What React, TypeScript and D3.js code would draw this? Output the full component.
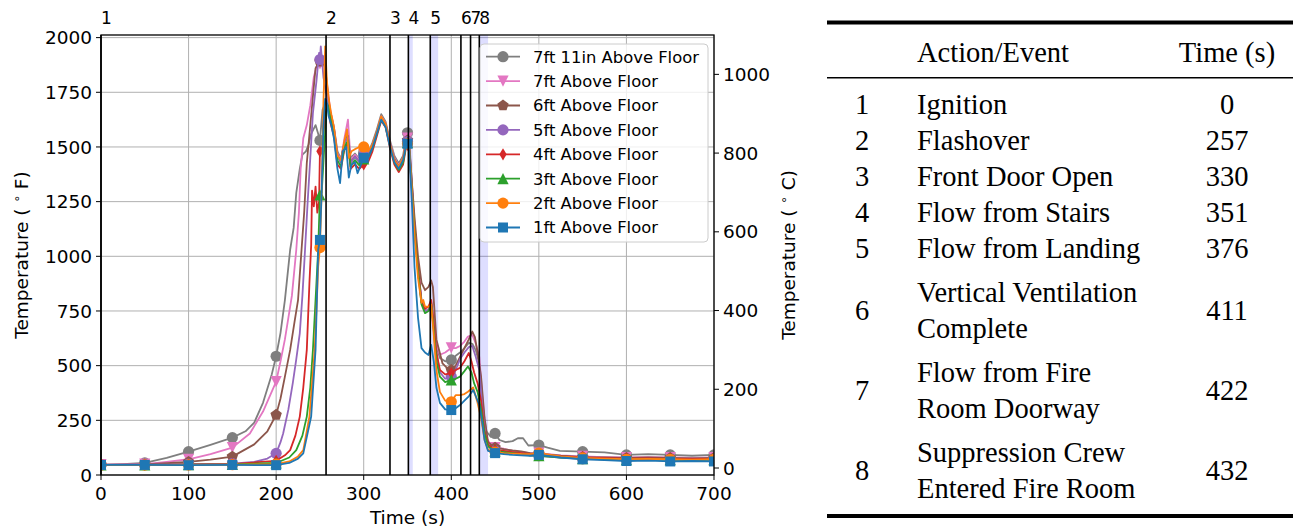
import React from "react";
import * as d3 from "d3";

type Pt = [number, number];

const seriesNames = [
  "7ft 11in Above Floor",
  "7ft Above Floor",
  "6ft Above Floor",
  "5ft Above Floor",
  "4ft Above Floor",
  "3ft Above Floor",
  "2ft Above Floor",
  "1ft Above Floor",
];
const seriesColors = ["#7f7f7f", "#e377c2", "#8c564b", "#9467bd", "#d62728", "#2ca02c", "#ff7f0e", "#1f77b4"];
const seriesMarkers = ["circle", "tridown", "pentagon", "circle", "thindiamond", "triup", "circle", "square"];

const tc7ft11in: Pt[] = [[0,47],[25,50],[50,55],[75,78],[100,107],[125,138],[150,171],[165,200],[175,240],[185,330],[195,460],[200,543],[205,650],[210,800],[216,1030],[220,1130],[223,1290],[227,1400],[230,1465],[234,1480],[237,1510],[240,1560],[245,1600],[248,1560],[250,1530],[253,1670],[256,1700],[259,1720],[262,1660],[266,1590],[270,1480],[274,1445],[278,1520],[282,1560],[285,1450],[290,1470],[295,1445],[300,1475],[305,1470],[310,1520],[315,1580],[320,1650],[325,1615],[330,1530],[335,1460],[340,1425],[345,1460],[348,1540],[350,1565],[352,1530],[355,1330],[358,1140],[362,950],[366,800],[370,750],[374,755],[377,790],[380,700],[383,590],[387,535],[393,520],[400,526],[405,545],[410,560],[415,580],[420,604],[424,600],[428,570],[432,510],[436,310],[440,200],[445,175],[450,190],[455,160],[462,150],[470,155],[476,168],[482,168],[488,135],[500,137],[510,125],[524,110],[550,107],[575,103],[600,92],[625,95],[650,92],[675,88],[700,92]];
const tc7ft: Pt[] = [[0,47],[25,48],[50,50],[75,60],[100,72],[125,95],[150,125],[170,190],[185,290],[200,427],[205,520],[210,620],[214,720],[218,820],[223,1030],[226,1200],[228,1400],[231,1540],[235,1600],[239,1690],[243,1820],[247,1880],[250,1880],[253,1900],[256,1850],[259,1760],[262,1660],[266,1590],[270,1470],[274,1440],[278,1540],[282,1625],[285,1440],[290,1465],[295,1440],[300,1465],[305,1465],[310,1510],[315,1570],[320,1640],[325,1610],[330,1520],[335,1450],[340,1415],[345,1450],[348,1520],[350,1540],[352,1510],[355,1330],[358,1150],[362,960],[366,790],[370,745],[374,760],[377,800],[380,700],[383,600],[387,550],[393,560],[400,581],[405,580],[410,590],[415,610],[419,633],[424,640],[428,600],[432,540],[436,330],[440,170],[445,140],[450,125],[460,120],[470,110],[480,105],[490,100],[500,100],[525,90],[550,85],[575,82],[600,80],[625,82],[650,80],[675,78],[700,80]];
const tc6ft: Pt[] = [[0,46],[50,48],[100,60],[125,70],[150,84],[175,140],[190,200],[200,275],[205,350],[210,450],[216,572],[221,700],[225,800],[229,1030],[232,1200],[235,1426],[239,1600],[242,1731],[245,1860],[248,1880],[250,1890],[253,1914],[256,1870],[259,1740],[262,1650],[266,1580],[270,1460],[274,1430],[278,1520],[282,1550],[285,1430],[290,1455],[295,1430],[300,1460],[305,1460],[310,1505],[315,1570],[320,1635],[325,1605],[330,1515],[335,1445],[340,1410],[345,1445],[348,1510],[350,1530],[352,1500],[355,1340],[358,1180],[362,1000],[366,880],[370,845],[374,860],[377,890],[379,860],[383,620],[390,510],[395,490],[400,480],[405,500],[410,540],[415,580],[420,620],[424,656],[427,630],[430,560],[434,450],[438,260],[442,150],[450,125],[460,118],[470,112],[480,108],[490,100],[500,97],[525,88],[550,82],[575,80],[600,78],[625,80],[650,78],[675,76],[700,78]];
const tc5ft: Pt[] = [[0,46],[50,47],[100,50],[150,52],[175,60],[190,75],[200,99],[205,150],[208,190],[214,300],[219,420],[223,530],[227,648],[230,820],[233,1030],[236,1250],[239,1450],[242,1655],[246,1800],[249,1930],[250,1900],[251,1960],[254,1820],[257,1750],[259,1720],[262,1640],[266,1580],[270,1460],[274,1430],[278,1520],[282,1545],[285,1425],[290,1455],[295,1430],[300,1460],[305,1460],[310,1505],[315,1565],[320,1630],[325,1600],[330,1510],[335,1440],[340,1405],[345,1440],[348,1505],[350,1525],[352,1495],[355,1320],[358,1130],[362,940],[366,790],[370,750],[374,755],[377,785],[380,680],[383,560],[387,470],[393,440],[400,450],[405,480],[410,530],[415,560],[420,585],[424,590],[428,540],[432,480],[436,280],[440,150],[445,120],[450,110],[460,105],[470,100],[480,95],[490,90],[500,88],[525,80],[550,74],[575,72],[600,70],[625,72],[650,70],[675,68],[700,70]];
const tc4ft: Pt[] = [[0,46],[50,46],[100,48],[150,50],[200,65],[210,90],[216,114],[222,180],[227,267],[231,400],[235,572],[238,877],[240,1050],[241,1300],[243,1228],[245,1319],[247,1200],[249,1250],[250,1480],[253,1500],[256,1650],[259,1690],[262,1610],[266,1550],[270,1420],[274,1400],[278,1490],[282,1520],[285,1400],[290,1420],[295,1400],[300,1420],[305,1430],[310,1480],[315,1550],[320,1620],[325,1590],[330,1495],[335,1420],[340,1385],[345,1420],[348,1490],[350,1510],[352,1480],[355,1310],[358,1130],[362,950],[366,790],[370,760],[374,770],[377,800],[380,690],[383,560],[387,480],[393,460],[400,466],[405,480],[410,490],[415,520],[420,558],[423,520],[426,470],[430,420],[434,340],[438,200],[442,140],[450,115],[460,110],[470,105],[480,100],[490,95],[500,92],[525,85],[550,80],[575,77],[600,75],[625,76],[650,74],[675,72],[700,74]];
const tc3ft: Pt[] = [[0,46],[50,46],[100,47],[150,48],[200,55],[215,80],[223,114],[230,180],[235,267],[239,400],[242,572],[246,877],[248,1030],[250,1281],[252,1290],[255,1500],[258,1700],[260,1680],[263,1620],[266,1560],[270,1440],[274,1410],[278,1500],[282,1530],[285,1410],[290,1440],[295,1415],[300,1445],[305,1450],[310,1495],[315,1560],[320,1625],[325,1595],[330,1505],[335,1430],[340,1395],[345,1430],[348,1500],[350,1520],[352,1490],[355,1310],[358,1120],[362,930],[366,780],[370,740],[374,750],[377,780],[380,660],[383,520],[387,450],[393,425],[400,435],[405,440],[410,450],[415,475],[419,496],[423,470],[426,420],[430,380],[434,300],[438,190],[442,130],[450,110],[460,105],[470,100],[480,95],[490,90],[500,88],[525,80],[550,75],[575,72],[600,70],[625,72],[650,70],[675,68],[700,70]];
const tc2ft: Pt[] = [[0,46],[50,46],[100,46],[150,47],[200,50],[215,62],[225,85],[231,114],[238,267],[244,572],[247,850],[248,953],[250,1040],[252,1300],[254,1700],[256,1960],[258,1800],[260,1720],[263,1650],[266,1590],[270,1460],[274,1440],[278,1530],[281,1580],[283,1450],[286,1480],[290,1490],[295,1500],[300,1500],[305,1480],[310,1510],[315,1570],[320,1640],[325,1605],[330,1510],[335,1440],[340,1410],[345,1450],[348,1510],[350,1515],[352,1490],[355,1300],[358,1100],[362,900],[366,787],[368,800],[370,770],[374,770],[377,780],[380,640],[383,480],[387,380],[393,340],[400,335],[405,365],[410,365],[415,370],[419,381],[425,400],[430,330],[434,260],[438,160],[442,115],[450,105],[460,100],[470,98],[480,96],[490,95],[500,100],[525,85],[550,78],[575,75],[600,72],[625,74],[650,72],[675,70],[700,72]];
const tc1ft: Pt[] = [[0,46],[50,46],[100,45],[150,46],[200,45],[215,55],[225,75],[231,99],[240,267],[245,572],[248,1030],[250,1075],[252,1300],[254,1600],[256,1720],[258,1700],[260,1640],[263,1600],[266,1540],[270,1400],[273,1335],[276,1480],[280,1500],[283,1360],[286,1420],[290,1430],[293,1380],[297,1420],[300,1450],[305,1450],[310,1495],[315,1560],[320,1625],[325,1590],[330,1500],[335,1430],[340,1400],[345,1440],[348,1500],[350,1515],[352,1480],[355,1250],[358,950],[362,720],[366,580],[370,560],[374,549],[377,595],[380,520],[383,400],[387,330],[393,300],[400,297],[405,305],[410,320],[415,340],[420,360],[425,389],[428,360],[432,320],[435,250],[438,160],[442,110],[450,100],[460,95],[470,92],[480,90],[490,88],[500,92],[525,80],[550,72],[575,68],[600,64],[625,66],[650,62],[675,64],[700,62]];

const seriesData: Pt[][] = [tc7ft11in, tc7ft, tc6ft, tc5ft, tc4ft, tc3ft, tc2ft, tc1ft];

const eventNums = ["1", "2", "3", "4", "5", "6", "7", "8"];
const eventTimes = [0, 257, 330, 351, 376, 411, 422, 432];
const eventLabels = [
  ["Ignition"],
  ["Flashover"],
  ["Front Door Open"],
  ["Flow from Stairs"],
  ["Flow from Landing"],
  ["Vertical Ventilation", "Complete"],
  ["Flow from Fire", "Room Doorway"],
  ["Suppression Crew", "Entered Fire Room"],
];
const flowSpans: [number, number][] = [[351, 356], [376, 385], [432, 442]];

const xTicks = [0, 100, 200, 300, 400, 500, 600, 700];
const yTicksF = [0, 250, 500, 750, 1000, 1250, 1500, 1750, 2000];
const yTicksC = [0, 200, 400, 600, 800, 1000];

const SANS = "'DejaVu Sans', Verdana, sans-serif";
const SERIF = "'Liberation Serif', 'Times New Roman', serif";

function Marker({ type, x, y, color }: { type: string; x: number; y: number; color: string }) {
  const r = 5.6;
  if (type === "circle") return <circle cx={x} cy={y} r={r} fill={color} />;
  if (type === "square") return <rect x={x - 5} y={y - 5} width={10} height={10} fill={color} />;
  let pts: [number, number][] = [];
  if (type === "triup") pts = [[0, -r], [-r, r], [r, r]];
  if (type === "tridown") pts = [[0, r], [-r, -r], [r, -r]];
  if (type === "thindiamond") pts = [[0, -r * 1.1], [r * 0.65, 0], [0, r * 1.1], [-r * 0.65, 0]];
  if (type === "pentagon") {
    const R = 6;
    pts = d3.range(5).map((i) => {
      const a = -Math.PI / 2 + (i * 2 * Math.PI) / 5;
      return [R * Math.cos(a), R * Math.sin(a)] as [number, number];
    });
  }
  return <polygon points={pts.map((p) => `${x + p[0]},${y + p[1]}`).join(" ")} fill={color} />;
}

export default function App() {
  const W = 1293, H = 529;
  const left = 101, right = 714, top = 35, bottom = 475;
  const x = d3.scaleLinear().domain([0, 700]).range([left, right]);
  const y = d3.scaleLinear().domain([0, 2012]).range([bottom, top]);
  const yC = (c: number) => y(c * 1.8 + 32);
  const line = d3.line<Pt>().x((d) => x(d[0])).y((d) => y(d[1]));

  // table layout
  const rowLines: number[][] = [];
  let cy = 104;
  eventLabels.forEach((lab, i) => {
    if (i > 0) cy += 36 + (lab.length > 1 || eventLabels[i - 1].length > 1 ? 8 : 0);
    const ys: number[] = [];
    lab.forEach((_, j) => {
      if (j > 0) cy += 36;
      ys.push(cy);
    });
    rowLines.push(ys);
  });

  return (
    <svg width={W} height={H} style={{ display: "block", position: "absolute", left: 0, top: 0, background: "#fff" }}>
      <defs>
        <clipPath id="plotclip">
          <rect x={left} y={top} width={right - left} height={bottom - top} />
        </clipPath>
      </defs>
      {xTicks.map((t) => (
        <line key={"gx" + t} x1={x(t)} x2={x(t)} y1={top} y2={bottom} stroke="#b0b0b0" strokeWidth={1} />
      ))}
      {yTicksF.map((t) => (
        <line key={"gy" + t} x1={left} x2={right} y1={y(t)} y2={y(t)} stroke="#b0b0b0" strokeWidth={1} />
      ))}
      {flowSpans.map((s, i) => (
        <rect key={"sp" + i} x={x(s[0])} y={top} width={x(s[1]) - x(s[0])} height={bottom - top} fill="#0000ff" fillOpacity={0.13} />
      ))}
      <g clipPath="url(#plotclip)">
        {seriesData.map((d, i) => (
          <g key={"s" + i}>
            <path d={line(d) || ""} fill="none" stroke={seriesColors[i]} strokeWidth={1.8} strokeLinejoin="round" />
            {d
              .filter((p) => p[0] % 50 === 0)
              .map((p, j) => (
                <Marker key={j} type={seriesMarkers[i]} x={x(p[0])} y={y(p[1])} color={seriesColors[i]} />
              ))}
          </g>
        ))}
      </g>
      {eventTimes.map((t, i) => (
        <g key={"ev" + i}>
          <line x1={x(t)} x2={x(t)} y1={top} y2={bottom} stroke="#000" strokeWidth={1.6} />
          <text x={x(t)} y={24} fontFamily={SANS} fontSize={17} fill="#000">
            {eventNums[i]}
          </text>
        </g>
      ))}
      <rect x={left} y={top} width={right - left} height={bottom - top} fill="none" stroke="#000" strokeWidth={1.3} />
      {xTicks.map((t) => (
        <g key={"xt" + t}>
          <line x1={x(t)} x2={x(t)} y1={bottom} y2={bottom + 5} stroke="#000" />
          <text x={x(t)} y={500} textAnchor="middle" fontFamily={SANS} fontSize={18.5} fill="#000">
            {t}
          </text>
        </g>
      ))}
      <text x={(left + right) / 2} y={524} textAnchor="middle" fontFamily={SANS} fontSize={18.5} fill="#000">
        Time (s)
      </text>
      {yTicksF.map((t) => (
        <g key={"yt" + t}>
          <line x1={left - 5} x2={left} y1={y(t)} y2={y(t)} stroke="#000" />
          <text x={left - 9} y={y(t)} dy="0.36em" textAnchor="end" fontFamily={SANS} fontSize={18.5} fill="#000">
            {t}
          </text>
        </g>
      ))}
      <text transform={`translate(28,${(top + bottom) / 2}) rotate(-90)`} textAnchor="middle" fontFamily={SANS} fontSize={18.5} fill="#000">
        Temperature ( <tspan fontSize={12} dy={-7}>∘</tspan><tspan dy={7}> F)</tspan>
      </text>
      {yTicksC.map((t) => (
        <g key={"yc" + t}>
          <line x1={right} x2={right + 5} y1={yC(t)} y2={yC(t)} stroke="#000" />
          <text x={right + 9} y={yC(t)} dy="0.36em" textAnchor="start" fontFamily={SANS} fontSize={18.5} fill="#000">
            {t}
          </text>
        </g>
      ))}
      <text transform={`translate(795,${(top + bottom) / 2}) rotate(-90)`} textAnchor="middle" fontFamily={SANS} fontSize={18.5} fill="#000">
        Temperature ( <tspan fontSize={12} dy={-7}>∘</tspan><tspan dy={7}> C)</tspan>
      </text>
      <g>
        <rect x={480} y={44} width={228} height={198} rx={4} fill="#fff" fillOpacity={0.8} stroke="#cccccc" strokeWidth={1} />
        {seriesNames.map((n, i) => {
          const ly = 56.7 + i * 24.4;
          return (
            <g key={"lg" + i}>
              <line x1={486} x2={520} y1={ly} y2={ly} stroke={seriesColors[i]} strokeWidth={1.8} />
              <Marker type={seriesMarkers[i]} x={503} y={ly} color={seriesColors[i]} />
              <text x={533} y={ly} dy="0.36em" fontFamily={SANS} fontSize={16.4} fill="#000">
                {n}
              </text>
            </g>
          );
        })}
      </g>
      <g fontFamily={SERIF} fontSize={28.5} fill="#000">
        <rect x={827} y={20.5} width={W - 827} height={4} fill="#000" />
        <text x={917} y={62}>Action/Event</text>
        <text x={1227} y={62} textAnchor="middle">Time (s)</text>
        <rect x={827} y={77} width={W - 827} height={1.5} fill="#000" />
        {eventLabels.map((lab, i) => {
          const ys = rowLines[i];
          const mid = (ys[0] + ys[ys.length - 1]) / 2;
          return (
            <g key={"row" + i}>
              <text x={862} y={mid + 9.5} textAnchor="middle">{eventNums[i]}</text>
              {lab.map((l, j) => (
                <text key={j} x={917} y={ys[j] + 9.5}>{l}</text>
              ))}
              <text x={1227} y={mid + 9.5} textAnchor="middle">{eventTimes[i]}</text>
            </g>
          );
        })}
        <rect x={827} y={514} width={W - 827} height={4} fill="#000" />
      </g>
    </svg>
  );
}
